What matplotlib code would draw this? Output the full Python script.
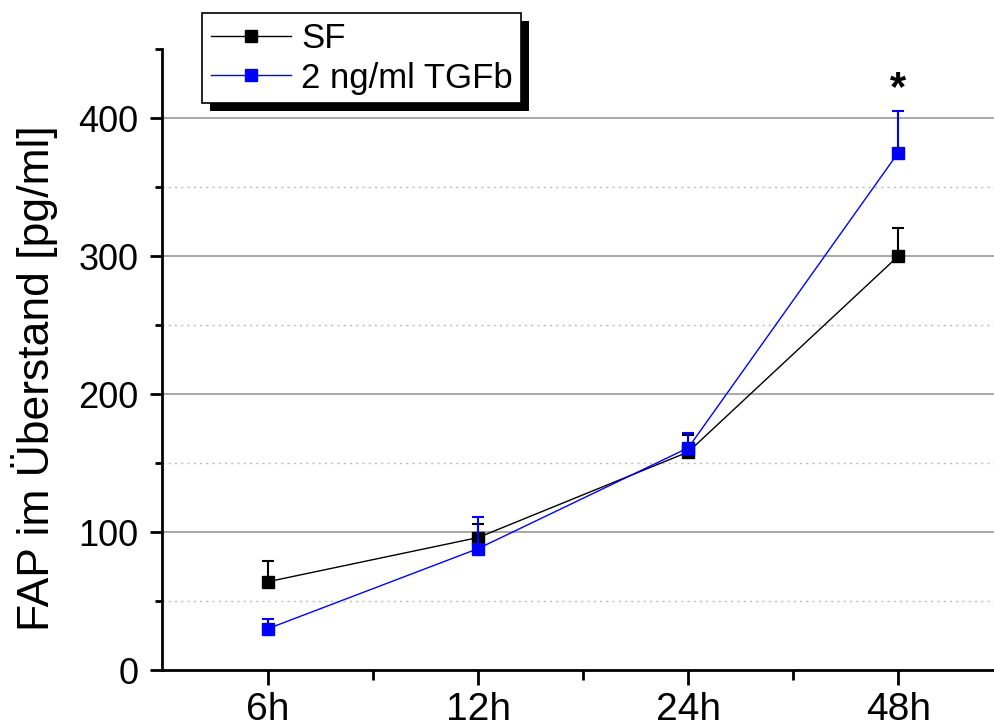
import matplotlib
matplotlib.use("Agg")
import matplotlib.pyplot as plt
from matplotlib.patches import Rectangle
from matplotlib.transforms import IdentityTransform
from matplotlib.ticker import MultipleLocator, FixedLocator
import numpy as np

plt.rcParams["font.family"] = ["Liberation Sans", "DejaVu Sans"]

timepoints = ["6h", "12h", "24h", "48h"]
sf_mean = [64, 96, 158, 300]
sf_err = [15, 10, 12, 20]
tgf_mean = [30, 88, 161, 375]
tgf_err = [7, 23, 11, 30]
labels = ["SF", "2 ng/ml TGFb"]

x = np.arange(len(timepoints))

fig = plt.figure(figsize=(9.95, 7.26), dpi=100)
ax = fig.add_axes([162 / 995, 56 / 726, 833 / 995, 621 / 726])

ax.set_xlim(-0.505, 3.46)
ax.set_ylim(0, 450)

# grid lines (major solid, minor dotted), none at the top edge
major_y = [100, 200, 300, 400]
minor_y = [50, 150, 250, 350]
ax.hlines(major_y, -0.505, 3.46, color="#999999", lw=1.2, zorder=0.5)
ax.hlines(minor_y, -0.505, 3.46, color="#bbbbbb", lw=1.0, ls=(0, (1.5, 3)), zorder=0.5)

for mean, err, col, lab in [(sf_mean, sf_err, "black", labels[0]),
                            (tgf_mean, tgf_err, "#0000ff", labels[1])]:
    ax.errorbar(x, mean, yerr=[np.zeros(len(err)), err], fmt="none", ecolor=col,
                capsize=4.5, capthick=1.5, elinewidth=1.5)
    ax.plot(x, mean, color=col, lw=1.0, marker="s", ms=9, mfc=col, mec=col, label=lab)

ax.text(3, 413, "*", fontsize=30, fontweight="bold", ha="center", va="baseline")

ax.set_xticks(x)
ax.set_xticklabels(timepoints)
ax.xaxis.set_minor_locator(FixedLocator([0.5, 1.5, 2.5]))
ax.yaxis.set_major_locator(MultipleLocator(100))
ax.yaxis.set_minor_locator(MultipleLocator(50))

for s in ["top", "right"]:
    ax.spines[s].set_visible(False)
for s in ["left", "bottom"]:
    ax.spines[s].set_linewidth(2)

ax.tick_params(axis="both", which="major", width=2)
ax.tick_params(axis="y", which="major", length=9, pad=8, labelsize=26)
ax.tick_params(axis="x", which="major", length=11, pad=5, labelsize=28)
ax.tick_params(axis="y", which="minor", length=5, width=2)
ax.tick_params(axis="x", which="minor", length=7, width=2)

ax.set_ylabel("FAP im Überstand [pg/ml]", fontsize=32)
ax.yaxis.set_label_coords(-0.125, 0.47)

leg = ax.legend(loc="upper left", bbox_to_anchor=(202 / 995, 1 - 13 / 726),
                bbox_transform=fig.transFigure, fontsize=25, frameon=True,
                fancybox=False, edgecolor="black", framealpha=1,
                handlelength=2.3, handletextpad=0.3, labelspacing=0.2,
                borderpad=0.25, borderaxespad=0)
leg.get_frame().set_linewidth(1.2)
leg.set_zorder(10)

# hard black shadow behind the legend box
fig.canvas.draw()
bb = leg.get_window_extent()
shadow = Rectangle((bb.x0 + 8, bb.y0 - 8), bb.width, bb.height, transform=IdentityTransform(),
                   facecolor="black", edgecolor="none", zorder=9, clip_on=False)
ax.add_patch(shadow)

fig.savefig("out.png", dpi=100)
